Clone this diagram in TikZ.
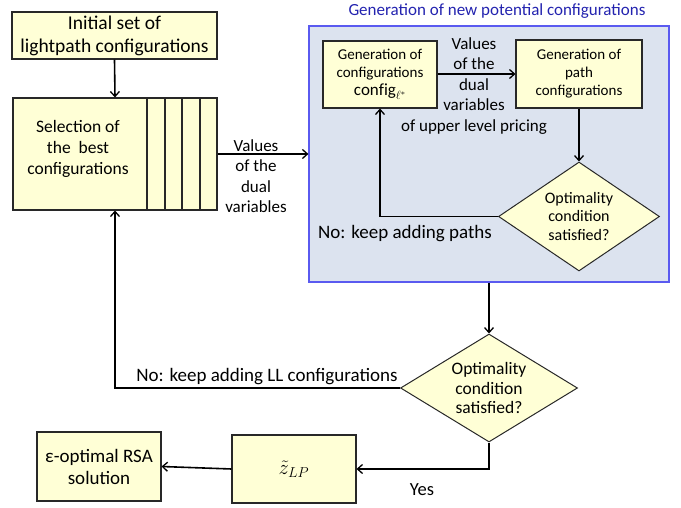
\documentclass[tikz,border=0pt]{standalone}
\usepackage{fontspec}
\setmainfont{Carlito}
\usetikzlibrary{shapes.geometric,arrows.meta,calc}
\definecolor{boxyellow}{RGB}{255,255,214}
\definecolor{panelblue}{RGB}{220,227,239}
\definecolor{panelborder}{RGB}{90,90,240}
\definecolor{titleblue}{RGB}{35,35,175}
\definecolor{edgegray}{RGB}{40,40,40}
\tikzset{
  ybox/.style={draw=edgegray,line width=1.1pt,fill=boxyellow,rectangle,inner sep=0pt,align=center},
  ydiam/.style={draw=edgegray,line width=1pt,fill=boxyellow,diamond,inner sep=0pt,align=center},
  conn/.style={line width=1.6pt,draw=black,-{Straight Barb[length=5pt,width=9pt,line width=1.3pt]}},
  lbl/.style={align=center,inner sep=0pt},
}
\begin{document}
\begin{tikzpicture}[x=1pt,y=-1pt]
\useasboundingbox (0,0) rectangle (681,508);
% top-left boxes
\node[ybox,minimum width=205pt,minimum height=47pt,font=\fontsize{19.5}{23}\selectfont] (init) at (114.5,35.5) {Initial set of\\lightpath configurations};
\node[ybox,minimum width=204pt,minimum height=112pt] (sel) at (115,154) {};
\foreach \xx in {147,165,182,200}
  \draw[draw=edgegray,line width=1.3pt] (\xx,0 |- sel.north) -- (\xx,0 |- sel.south);
\node[lbl,font=\fontsize{17.5}{21}\selectfont] (seltext) at (78,149) {Selection of\\the\ \ best\\configurations};
\draw[conn] (init.south) -- (sel.north);
% blue panel
\node[draw=panelborder,line width=1.2pt,fill=panelblue,rectangle,minimum width=360pt,minimum height=256pt,inner sep=0pt] (panel) at (489,154) {};
\node[lbl,text=titleblue,font=\fontsize{17}{20}\selectfont] (title) at (497,11) {Generation of new potential configurations};
\draw[conn] (sel.east) -- (panel.west);
\node[lbl,font=\fontsize{17}{20.5}\selectfont] (v1) at (256,176) {Values\\of the\\dual\\variables};
% inner boxes
\node[ybox,minimum width=114pt,minimum height=67pt,font=\fontsize{15}{18}\selectfont] (cfg) at (380,74.5) {Generation of\\configurations\\{\fontsize{17}{18}\selectfont$\mathrm{config}_{\ell^*}$}};
\node[ybox,minimum width=126pt,minimum height=68pt,font=\fontsize{15}{18}\selectfont] (pathc) at (579,74) {Generation of\\path\\configurations};
\draw[conn] (cfg.east |- pathc.west) -- (pathc.west);
\node[lbl,font=\fontsize{17}{20.5}\selectfont] (v2) at (474,86) {Values\\of the\\dual\\variables\\of upper level pricing};
\node[ydiam,minimum width=161pt,minimum height=109pt,aspect=1.48,font=\fontsize{16}{18.5}\selectfont] (d1) at (579,216.5) {Optimality\\condition\\satisfied?};
\draw[conn] (pathc.south) -- (d1.north);
\draw[conn] (d1.west) -| (cfg.south);
\node[lbl,font=\fontsize{19}{22}\selectfont,anchor=west] (nopaths) at (318,234) {No: keep adding paths};
% lower part
\node[ydiam,minimum width=177pt,minimum height=108pt,aspect=1.64,font=\fontsize{17.5}{19.5}\selectfont] (d2) at (489,388) {Optimality\\condition\\satisfied?};
\draw[conn] (panel.south) -- (d2.north);
\draw[conn] (d2.west) -| (sel.south);
\node[lbl,font=\fontsize{19}{21}\selectfont] (noll) at (267,377) {No: keep adding LL configurations};
\node[ybox,minimum width=124pt,minimum height=68pt,font=\fontsize{20}{22}\selectfont] (zlp) at (294,469) {$\tilde{z}_{LP}$};
\draw[conn] (d2.south) |- (zlp.east);
\node[lbl,font=\fontsize{18.5}{20}\selectfont] (yes) at (422,490) {Yes};
\node[ybox,minimum width=124pt,minimum height=69pt,font=\fontsize{19}{22}\selectfont] (rsa) at (99,466.5) {ε-optimal RSA\\solution};
\draw[conn] (zlp.west) -- (rsa.east);
\end{tikzpicture}
\end{document}
